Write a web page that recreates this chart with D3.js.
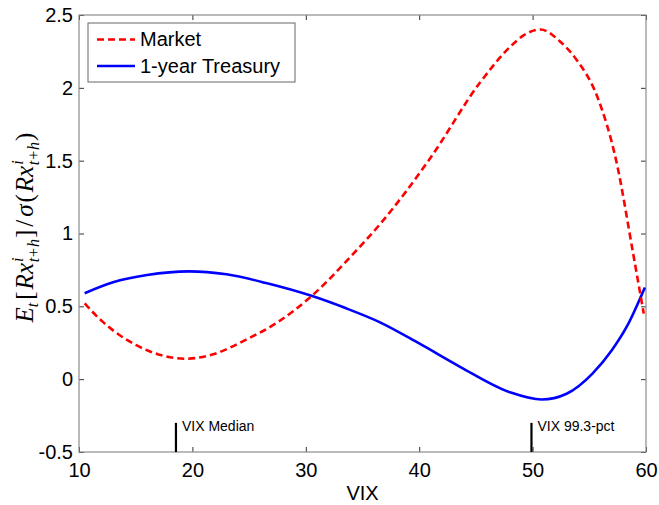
<!DOCTYPE html>
<html>
<head>
<meta charset="utf-8">
<script src="https://cdn.jsdelivr.net/npm/d3@7"></script>
<style>
  html, body { margin: 0; padding: 0; background: #fff; }
  svg text { font-family: "Liberation Sans", Arial, Helvetica, sans-serif; }
</style>
</head>
<body>
<svg id="chart" width="659" height="505"></svg>
<script>
// Sharpe-ratio curves against VIX level
const marketVix = [10.5, 12, 13, 15, 17, 19.4, 22, 24.7, 27.5, 30.5, 34.3, 36.5, 41, 45.4, 48, 49.2, 50.7, 52.4, 53.9, 55.7, 57.4, 58.85, 59.8];
const marketVal = [0.52, 0.40, 0.335, 0.235, 0.17, 0.14, 0.175, 0.27, 0.39, 0.57, 0.87, 1.06, 1.52, 2.04, 2.28, 2.36, 2.40, 2.32, 2.19, 1.94, 1.49, 0.87, 0.45];

const treasuryVix = [10.5, 13, 16, 19.7, 23, 26.5, 30.5, 33.5, 36.5, 40, 43.6, 48, 50.8, 53, 55.3, 57, 58.3, 59.9];
const treasuryVal = [0.59, 0.665, 0.715, 0.74, 0.72, 0.66, 0.572, 0.488, 0.392, 0.245, 0.085, -0.09, -0.14, -0.10, 0.04, 0.20, 0.36, 0.63];

const xTicks = [10, 20, 30, 40, 50, 60];
const yTicks = [-0.5, 0, 0.5, 1, 1.5, 2, 2.5];
const yTickLabels = ["-0.5", "0", "0.5", "1", "1.5", "2", "2.5"];

// Reference markers on the VIX axis
const markerVix = [18.55, 49.9];
const markerLabels = ["VIX Median", "VIX 99.3-pct"];
const markerTop = -0.3;

const seriesNames = ["Market", "1-year Treasury"];

const svg = d3.select("#chart");
const plotL = 79, plotR = 646, plotT = 15, plotB = 452;

const x = d3.scaleLinear().domain([10, 60]).range([plotL, plotR]);
const y = d3.scaleLinear().domain([-0.5, 2.5]).range([plotB, plotT]);

const axisColor = "#8c8c8c";
const tickColor = "#333";

// Axes: ticks point inward on all four sides
const fmtY = d => yTickLabels[yTicks.indexOf(d)];
svg.append("g")
  .attr("transform", `translate(0,${plotB})`)
  .call(d3.axisBottom(x).tickValues(xTicks).tickSizeInner(-5).tickSizeOuter(0).tickPadding(11).tickFormat(d3.format("d")))
  .call(g => g.select(".domain").remove());
svg.append("g")
  .attr("transform", `translate(0,${plotT})`)
  .call(d3.axisTop(x).tickValues(xTicks).tickSizeInner(-5).tickSizeOuter(0).tickFormat(""))
  .call(g => g.select(".domain").remove());
svg.append("g")
  .attr("transform", `translate(${plotL},0)`)
  .call(d3.axisLeft(y).tickValues(yTicks).tickSizeInner(-5).tickSizeOuter(0).tickPadding(6).tickFormat(fmtY))
  .call(g => g.select(".domain").remove());
svg.append("g")
  .attr("transform", `translate(${plotR},0)`)
  .call(d3.axisRight(y).tickValues(yTicks).tickSizeInner(-5).tickSizeOuter(0).tickFormat(""))
  .call(g => g.select(".domain").remove());

svg.selectAll(".tick line").attr("stroke", tickColor);
svg.selectAll(".tick text")
  .attr("fill", "#000")
  .style("font-size", "20px")
  .style("font-family", "'Liberation Sans', Arial, sans-serif");

svg.append("rect")
  .attr("x", plotL).attr("y", plotT)
  .attr("width", plotR - plotL).attr("height", plotB - plotT)
  .attr("fill", "none").attr("stroke", axisColor).attr("stroke-width", 1.2);

// Curves
const line = d3.line().x(d => x(d[0])).y(d => y(d[1])).curve(d3.curveMonotoneX);
const marketPts = d3.zip(marketVix, marketVal);
const treasuryPts = d3.zip(treasuryVix, treasuryVal);

svg.append("path").datum(treasuryPts)
  .attr("d", line).attr("fill", "none")
  .attr("stroke", "#0000ff").attr("stroke-width", 2.6);
svg.append("path").datum(marketPts)
  .attr("d", line).attr("fill", "none")
  .attr("stroke", "#ff0000").attr("stroke-width", 2.6)
  .attr("stroke-dasharray", "7,4");

// VIX markers
markerVix.forEach((v, i) => {
  svg.append("line")
    .attr("x1", x(v)).attr("x2", x(v))
    .attr("y1", y(-0.5)).attr("y2", y(markerTop))
    .attr("stroke", "#000").attr("stroke-width", 2.2);
  svg.append("text")
    .attr("x", x(v) + 6).attr("y", y(markerTop) + 8.5)
    .style("font-size", "14px")
    .text(markerLabels[i]);
});

// Legend
const lg = svg.append("g");
lg.append("rect")
  .attr("x", 88).attr("y", 23).attr("width", 207).attr("height", 59)
  .attr("fill", "#fff").attr("stroke", "#666").attr("stroke-width", 1);
const legendRows = [
  { name: seriesNames[0], color: "#ff0000", dash: "7,4", cy: 39.5 },
  { name: seriesNames[1], color: "#0000ff", dash: null, cy: 66 }
];
legendRows.forEach(r => {
  lg.append("line")
    .attr("x1", 97).attr("x2", 135).attr("y1", r.cy).attr("y2", r.cy)
    .attr("stroke", r.color).attr("stroke-width", 2.6)
    .attr("stroke-dasharray", r.dash);
  lg.append("text")
    .attr("x", 140).attr("y", r.cy + 6.5)
    .style("font-size", "20px")
    .text(r.name);
});

// Axis titles
svg.append("text")
  .attr("x", (plotL + plotR) / 2).attr("y", 500)
  .attr("text-anchor", "middle")
  .style("font-size", "20px")
  .text("VIX");

const yl = svg.append("text")
  .attr("transform", `translate(33,${(plotT + plotB) / 2 - 6}) rotate(-90)`)
  .attr("text-anchor", "middle")
  .style("font-family", "'Liberation Serif', 'Times New Roman', serif")
  .style("font-size", "25px");
const big = 25, small = 16;
function part(str, opts) {
  const t = yl.append("tspan").text(str);
  t.style("font-size", (opts.size || big) + "px");
  if (opts.italic) t.style("font-style", "italic");
  if (opts.dy) t.attr("dy", opts.dy);
  if (opts.dx) t.attr("dx", opts.dx);
  return t;
}
function rxTerm() {
  part("Rx", { italic: true, dx: 2 });
  part("i", { italic: true, size: small, dy: -10, dx: 1 });
  part("t+h", { italic: true, size: small, dy: 16, dx: -4.8 });
}
part("E", { italic: true });
part("t", { italic: true, size: small, dy: 5 });
part("[", { dy: -5, dx: 3 });
rxTerm();
part("]", { dy: -6, dx: 1 });
part("/", { dx: 3 });
part("σ", { italic: true, dx: 3 });
part("(", { dx: 2 });
rxTerm();
part(")", { dy: -6, dx: 1 });
</script>
</body>
</html>
